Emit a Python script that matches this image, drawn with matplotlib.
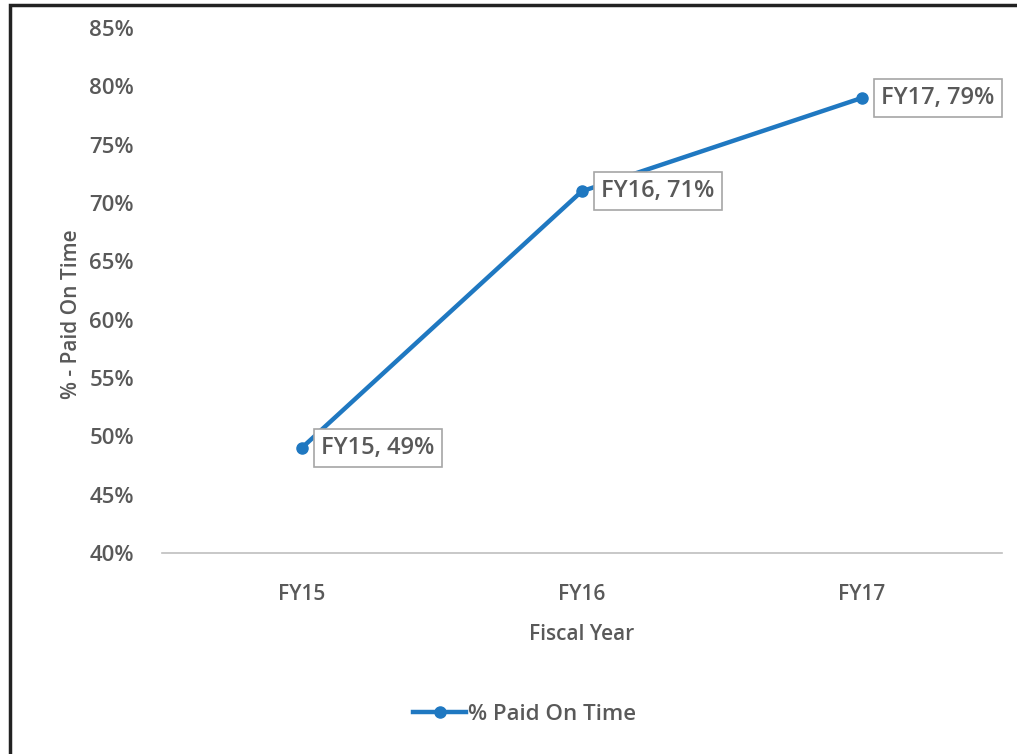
import matplotlib.pyplot as plt
from matplotlib.patches import Rectangle

years = ['FY15', 'FY16', 'FY17']
paid_on_time = [0.49, 0.71, 0.79]
y_ticks = [0.40, 0.45, 0.50, 0.55, 0.60, 0.65, 0.70, 0.75, 0.80, 0.85]

blue = '#1f78c1'
grey = '#595959'

plt.rcParams['font.family'] = ['Open Sans', 'DejaVu Sans']

fig = plt.figure(figsize=(10.17, 7.54), dpi=100)
ax = fig.add_axes([0.159, 0.2666, 0.826, 0.6963])

x = list(range(len(years)))
ax.plot(x, paid_on_time, color=blue, lw=3.2, marker='o', ms=8,
        label='% Paid On Time')

for xi, (yr, v) in enumerate(zip(years, paid_on_time)):
    ax.annotate(f'{yr}, {v:.0%}', (xi, v), xytext=(14, 0),
                textcoords='offset points', va='center', ha='left',
                fontsize=17, fontweight='semibold', color=grey,
                bbox=dict(boxstyle='square,pad=0.3', fc='white',
                          ec='#a6a6a6', lw=1.2))

ax.set_xlim(-0.5, len(years) - 0.5)
ax.set_ylim(0.40, 0.85)
ax.set_xticks(x)
ax.set_xticklabels(years)
ax.set_yticks(y_ticks)
ax.set_yticklabels([f'{t:.0%}' for t in y_ticks])
ax.tick_params(axis='both', length=0, colors=grey)
ax.tick_params(axis='x', pad=22, labelsize=15)
ax.tick_params(axis='y', pad=20, labelsize=16)
for lbl in ax.get_xticklabels() + ax.get_yticklabels():
    lbl.set_fontweight('semibold')

for s in ['top', 'right', 'left']:
    ax.spines[s].set_visible(False)
ax.spines['bottom'].set_color('#bfbfbf')
ax.spines['bottom'].set_linewidth(1.2)

ax.set_xlabel('Fiscal Year', fontsize=15, fontweight='semibold', color=grey,
              labelpad=14)
ax.set_ylabel('% - Paid On Time', fontsize=15, fontweight='semibold',
              color=grey)
ax.yaxis.set_label_coords(-0.095, 0.455)

fig.legend(loc='center', bbox_to_anchor=(0.516, 0.053), frameon=False,
           prop={'size': 16, 'weight': 'semibold'}, labelcolor=grey,
           handlelength=2.4, handletextpad=0.1)

# dark frame along the top and left edges
fig.patches.append(Rectangle((0.010, -0.1), 1.2, 1.093, transform=fig.transFigure,
                             fill=False, ec='#222222', lw=2.5))

fig.savefig('out.png', dpi=100)
